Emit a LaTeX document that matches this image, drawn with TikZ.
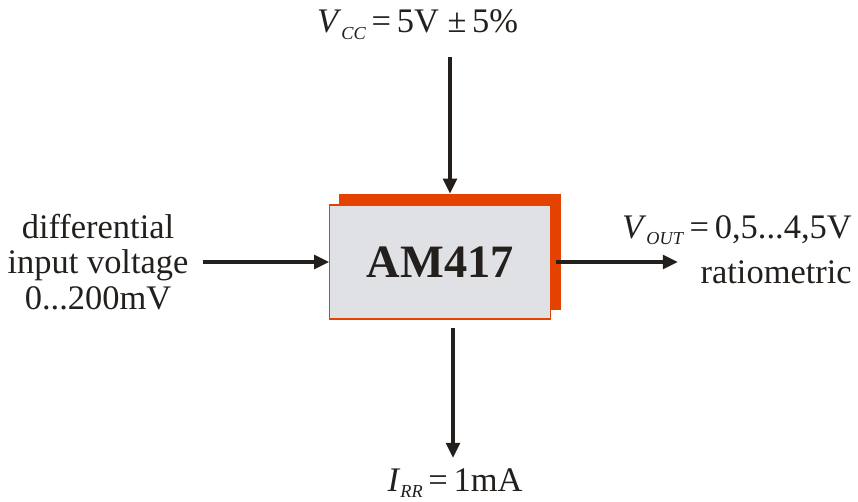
\documentclass[tikz,border=0pt]{standalone}
\usepackage{fontspec}
\setmainfont{Liberation Serif}
\usetikzlibrary{arrows.meta}
\definecolor{chip-orange}{HTML}{E34200}
\definecolor{chip-grey}{HTML}{E0E1E5}
\definecolor{ink}{HTML}{231F1C}
\newcommand{\lowsub}[1]{\raisebox{-0.4ex}{\fontsize{13}{13}\selectfont\textit{#1}}}

\begin{document}
\begin{tikzpicture}[
    flow/.style={-{Triangle[length=0.38cm, width=0.34cm]}, line width=2.6pt, color=ink},
    label/.style={font=\fontsize{24.5}{25}\selectfont, text=ink, inner sep=0pt}]
    % Diagram: AM417 block with supply, input, output and bias current.
    % Coordinates: (x, y), page 21.45cm x 12.525cm
    %   shadow block at (11.25,6.225), width 5.55cm, height 2.9cm
    %   chip block at (11.01,5.975), width 5.525cm, height 2.85cm
    %   supply arrow x=11.25, bias arrow x=11.325
    \useasboundingbox (0,0) rectangle (21.45,12.525);
    \node[fill=chip-orange, minimum width=5.55cm, minimum height=2.9cm,
          inner sep=0pt] (shadow) at (11.25,6.225) {};
    \node[draw=chip-orange, line width=0.8pt, fill=chip-grey,
          minimum width=5.525cm, minimum height=2.85cm, text=ink,
          font=\fontsize{33}{40}\selectfont\bfseries] (chip) at (11.01,5.975) {AM417};
    \node[label, anchor=base] (vcc) at (10.44,11.7)
          {\textit{V}\lowsub{CC}\,=\,5V ±\,5\%};
    \node[label, align=center] (input) at (2.45,5.975)
          {differential\\ input voltage\\ 0...200mV};
    \node[label, align=right, anchor=north east] (vout) at (21.3,7.15)
          {\textit{V}\lowsub{OUT}\,=\,0,5...4,5V\\[0.25cm] ratiometric};
    \node[label, anchor=base] (ibb) at (11.375,0.25)
          {\textit{I}\lowsub{RR}\,=\,1mA};
    \coordinate (vcctail) at (11.25,11.1);
    \coordinate (vouttip) at (16.95,5.95);
    \coordinate (ibbtip) at (11.325,1.075);
    \draw[flow] (vcctail) -- (shadow.north);
    \draw[flow] ([xshift=0.35cm]input.east) -- (chip.west);
    \draw[flow, shorten <=0.12cm] (chip.east) -- (chip.east -| vouttip);
    \draw[flow, shorten <=0.2cm] (ibbtip |- chip.south) -- (ibbtip);
  \end{tikzpicture}
\end{document}
